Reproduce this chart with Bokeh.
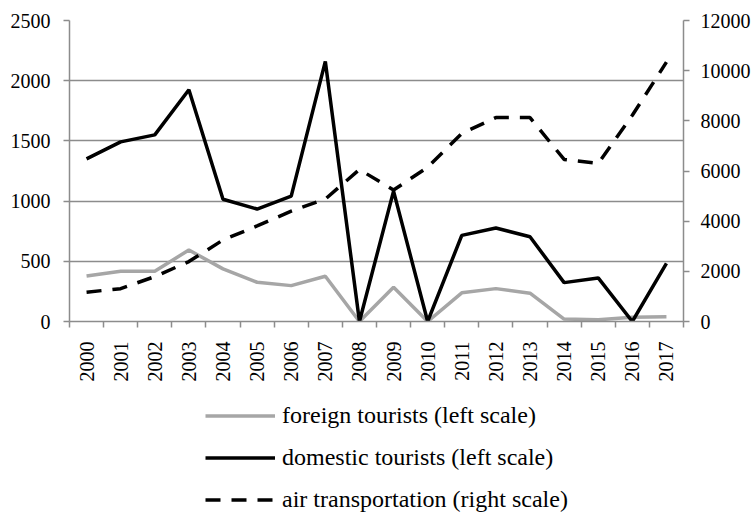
import math
from bokeh.plotting import figure
from bokeh.layouts import column
from bokeh.models import Range1d, LinearAxis, FixedTicker, Legend, LegendItem, ColumnDataSource
from bokeh.embed import file_html
from bokeh.resources import INLINE

# ---- data ----
years = [2000, 2001, 2002, 2003, 2004, 2005, 2006, 2007, 2008,
         2009, 2010, 2011, 2012, 2013, 2014, 2015, 2016, 2017]
foreign = [378, 417, 417, 594, 437, 326, 298, 376, 0,
           285, 0, 238, 273, 235, 20, 15, 35, 40]
domestic = [1351, 1492, 1550, 1925, 1015, 934, 1041, 2160, 0,
            1083, 0, 715, 776, 704, 323, 362, 0, 483]
air = [1170, 1310, 1790, 2390, 3250, 3810, 4400, 4880, 6060,
       5240, 6150, 7500, 8130, 8130, 6460, 6300, 8220, 10340]
left_ticks = [0, 500, 1000, 1500, 2000, 2500]
right_ticks = [0, 2000, 4000, 6000, 8000, 10000, 12000]
labels = ["foreign tourists (left scale)",
          "domestic tourists (left scale)",
          "air transportation (right scale)"]
series = ["foreign", "domestic", "air"]

src = ColumnDataSource(dict(year=years, foreign=foreign, domestic=domestic, air=air))

FONT = "Liberation Serif"
GRAY = "#8c8c8c"
STYLES = [dict(line_color="#a6a6a6", line_width=3.5),
          dict(line_color="black", line_width=3.5),
          dict(line_color="black", line_width=3.5, line_dash="15 11")]

p = figure(width=756, height=385, output_backend="svg", toolbar_location=None,
           x_range=Range1d(years[0] - 0.5, years[-1] + 0.5),
           y_range=Range1d(left_ticks[0], left_ticks[-1]),
           min_border_left=69, min_border_right=73, min_border_top=20,
           min_border_bottom=64)
p.extra_y_ranges = {"right": Range1d(right_ticks[0], right_ticks[-1])}
p.outline_line_color = None
p.background_fill_color = "white"
p.border_fill_color = "white"

# axes
xa = p.xaxis[0]
xa.ticker = FixedTicker(ticks=years, minor_ticks=[y - 0.5 for y in years] + [years[-1] + 0.5])
xa.major_label_orientation = math.pi / 2
xa.major_tick_out = 0
xa.major_tick_in = 0
xa.minor_tick_out = 6
xa.minor_tick_in = 0
xa.major_label_standoff = 14

ya = p.yaxis[0]
ya.ticker = FixedTicker(ticks=left_ticks)
ya.major_tick_out = 6
ya.major_tick_in = 0
ya.minor_tick_out = 0
ya.minor_tick_in = 0
ya.major_label_standoff = 13

ra = LinearAxis(y_range_name="right", ticker=FixedTicker(ticks=right_ticks))
ra.major_tick_out = 6
ra.major_tick_in = 0
ra.minor_tick_out = 0
ra.minor_tick_in = 0
ra.major_label_standoff = 11
p.add_layout(ra, "right")

for ax in (xa, ya, ra):
    ax.axis_line_color = GRAY
    ax.axis_line_width = 1.5
    ax.major_tick_line_color = GRAY
    ax.minor_tick_line_color = GRAY
    ax.major_tick_line_width = 1.5
    ax.minor_tick_line_width = 1.5
    ax.major_label_text_font = FONT
    ax.major_label_text_font_size = "20px"
    ax.major_label_text_color = "black"

p.xgrid.grid_line_color = None
p.ygrid.ticker = FixedTicker(ticks=left_ticks)
p.ygrid.grid_line_color = GRAY
p.ygrid.grid_line_width = 1.5

# lines
p.line("year", "foreign", source=src, **STYLES[0])
p.line("year", "domestic", source=src, **STYLES[1])
p.line("year", "air", source=src, y_range_name="right", **STYLES[2])

# ---- legend panel (separate figure below the chart) ----
leg = figure(width=756, height=128, output_backend="svg", toolbar_location=None,
             x_axis_type=None, y_axis_type=None, min_border=0,
             x_range=Range1d(0, 1), y_range=Range1d(0, 1))
leg.outline_line_color = None
leg.xgrid.grid_line_color = None
leg.ygrid.grid_line_color = None
# legend-only renderers (hidden), sharing the chart's data
leg_renderers = [leg.line("year", s, source=src, visible=False, **st)
                 for s, st in zip(series, STYLES)]

legend = Legend(items=[LegendItem(label=lab, renderers=[r])
                       for lab, r in zip(labels, leg_renderers)],
                location=(136, 0), orientation="vertical",
                margin=0, padding=0, spacing=15,
                glyph_width=70, glyph_height=27, label_height=27,
                label_standoff=7,
                label_text_font=FONT, label_text_font_size="24px",
                label_text_color="black",
                inactive_fill_alpha=0,
                background_fill_alpha=0, border_line_color=None)
leg.add_layout(legend, "center")

layout = column(p, leg, spacing=0)
open("out.html", "w").write(file_html(layout, INLINE))
